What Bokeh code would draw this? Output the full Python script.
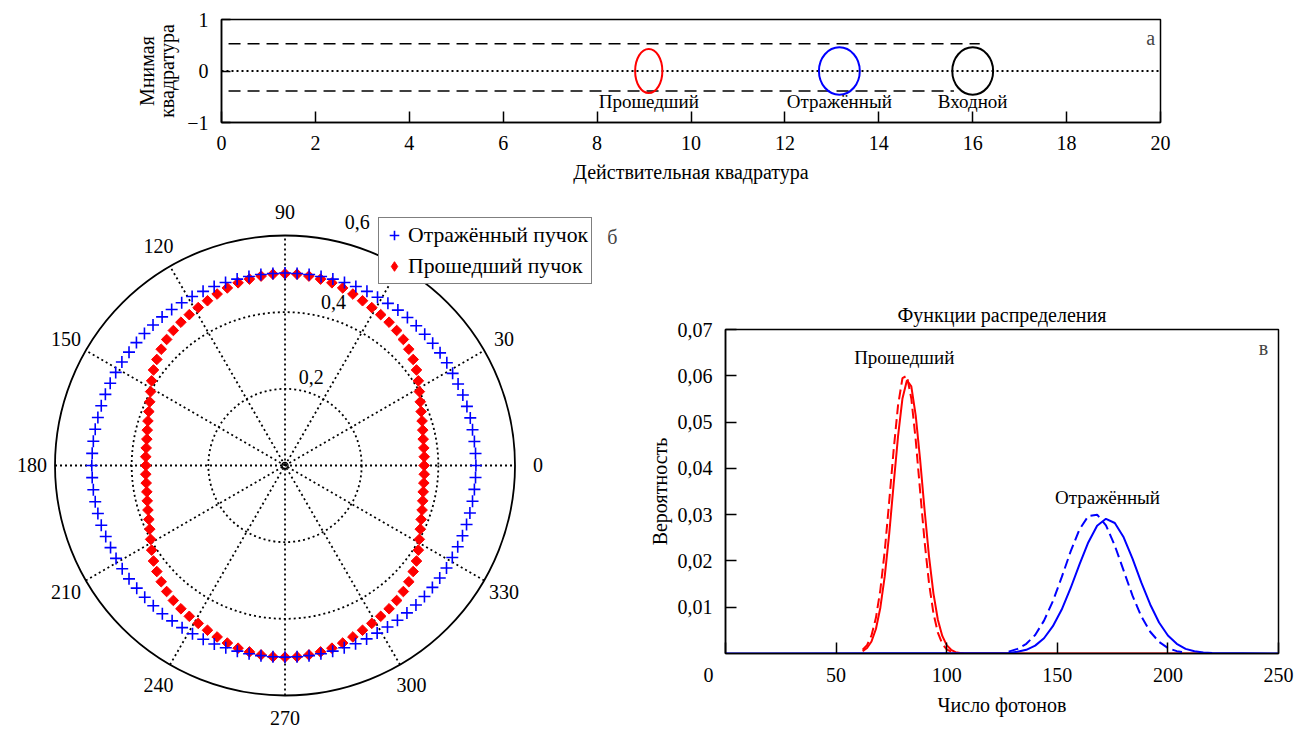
import math
from bokeh.plotting import figure
from bokeh.models import Range1d, Label, Legend, LegendItem, FixedTicker
from bokeh.layouts import column, row
from bokeh.embed import file_html
from bokeh.resources import INLINE
from bokeh.core.properties import value

FONT = "Liberation Serif"

# ---------------- panel а : phase plane ----------------
a_xticks = [0, 2, 4, 6, 8, 10, 12, 14, 16, 18, 20]
a_yticks = [-1, 0, 1]
a_ytick_labels = {-1: "\u22121", 0: "0", 1: "1"}
ell_names = ["Прошедший", "Отражённый", "Входной"]
ell_x = [9.1, 13.16, 16.0]
ell_y = [0.0, 0.0, 0.0]
ell_w = [0.58, 0.87, 0.87]
ell_h = [0.86, 0.92, 0.92]
ell_colors = ["red", "blue", "black"]
upper_dash_x = [0.15, 16.15]
upper_dash_y = [0.53, 0.53]
lower_dash_x = [0.15, 15.6]
lower_dash_y = [-0.39, -0.39]
zero_x = [0, 20]
zero_y = [0, 0]

# ---------------- panel б : polar ----------------
theta_deg = [0.0, 3.6, 7.2, 10.8, 14.4, 18.0, 21.6, 25.2, 28.8, 32.4, 36.0, 39.6, 43.2,
             46.8, 50.4, 54.0, 57.6, 61.2, 64.8, 68.4, 72.0, 75.6, 79.2, 82.8, 86.4, 90.0,
             93.6, 97.2, 100.8, 104.4, 108.0, 111.6, 115.2, 118.8, 122.4, 126.0, 129.6,
             133.2, 136.8, 140.4, 144.0, 147.6, 151.2, 154.8, 158.4, 162.0, 165.6, 169.2,
             172.8, 176.4, 180.0, 183.6, 187.2, 190.8, 194.4, 198.0, 201.6, 205.2, 208.8,
             212.4, 216.0, 219.6, 223.2, 226.8, 230.4, 234.0, 237.6, 241.2, 244.8, 248.4,
             252.0, 255.6, 259.2, 262.8, 266.4, 270.0, 273.6, 277.2, 280.8, 284.4, 288.0,
             291.6, 295.2, 298.8, 302.4, 306.0, 309.6, 313.2, 316.8, 320.4, 324.0, 327.6,
             331.2, 334.8, 338.4, 342.0, 345.6, 349.2, 352.8, 356.4]
r_reflected = [0.498, 0.498, 0.498, 0.498, 0.499, 0.499, 0.499, 0.499, 0.499, 0.500, 0.500,
               0.500, 0.500, 0.500, 0.501, 0.501, 0.501, 0.501, 0.502, 0.502, 0.502, 0.502,
               0.502, 0.502, 0.502, 0.502,
               0.502, 0.502, 0.502, 0.502, 0.502, 0.502, 0.502, 0.503, 0.503, 0.503, 0.503,
               0.503, 0.503, 0.503, 0.503, 0.504, 0.504, 0.504, 0.504, 0.504, 0.504, 0.504,
               0.504, 0.504, 0.504,
               0.504, 0.504, 0.504, 0.504, 0.504, 0.503, 0.503, 0.503, 0.503, 0.503, 0.502,
               0.502, 0.502, 0.502, 0.501, 0.501, 0.501, 0.501, 0.501, 0.500, 0.500, 0.500,
               0.500, 0.500, 0.500,
               0.500, 0.500, 0.500, 0.500, 0.500, 0.500, 0.500, 0.499, 0.499, 0.499, 0.499,
               0.499, 0.499, 0.499, 0.499, 0.499, 0.498, 0.498, 0.498, 0.498, 0.498, 0.498,
               0.498, 0.498]
r_transmitted = [0.363, 0.364, 0.365, 0.367, 0.371, 0.376, 0.382, 0.390, 0.400, 0.412, 0.424,
                 0.434, 0.443, 0.451, 0.457, 0.462, 0.466, 0.470, 0.475, 0.481, 0.487, 0.492,
                 0.495, 0.498, 0.500, 0.500,
                 0.500, 0.498, 0.495, 0.492, 0.487, 0.481, 0.475, 0.470, 0.466, 0.462, 0.457,
                 0.451, 0.443, 0.434, 0.424, 0.412, 0.400, 0.390, 0.382, 0.376, 0.371, 0.367,
                 0.365, 0.364, 0.363,
                 0.364, 0.365, 0.367, 0.371, 0.376, 0.382, 0.390, 0.400, 0.412, 0.424, 0.434,
                 0.443, 0.451, 0.457, 0.462, 0.466, 0.470, 0.475, 0.481, 0.487, 0.492, 0.495,
                 0.498, 0.500, 0.500,
                 0.500, 0.498, 0.495, 0.492, 0.487, 0.481, 0.475, 0.470, 0.466, 0.462, 0.457,
                 0.451, 0.443, 0.434, 0.424, 0.412, 0.400, 0.390, 0.382, 0.376, 0.371, 0.367,
                 0.365, 0.364]
polar_rings = [0.2, 0.4]
polar_rmax = 0.6
polar_ring_labels = ["0,2", "0,4", "0,6"]
polar_ring_label_r = [0.242, 0.445, 0.663]
polar_spokes = [0, 30, 60, 90, 120, 150]
polar_angle_ticks = [0, 30, 60, 90, 120, 150, 180, 210, 240, 270, 300, 330]
polar_angle_labels = ["0", "30", "60", "90", "120", "150", "180", "210", "240", "270", "300", "330"]

# ---------------- panel в : distributions ----------------
c_xticks = [0, 50, 100, 150, 200, 250]
c_yticks = [0.01, 0.02, 0.03, 0.04, 0.05, 0.06, 0.07]
c_ytick_labels = ["0,01", "0,02", "0,03", "0,04", "0,05", "0,06", "0,07"]

red_solid_x = [62, 64, 66, 68, 70, 72, 74, 76, 78, 80, 82, 84, 86, 88, 90, 92, 94, 96, 98,
               100, 102, 104, 106, 108, 215]
red_solid_y = [0.0005, 0.0012, 0.0026, 0.0053, 0.0099, 0.0167, 0.0258, 0.0365, 0.0469,
               0.0551, 0.0590, 0.0577, 0.0514, 0.0418, 0.0310, 0.0210, 0.0130, 0.0073,
               0.0038, 0.0018, 0.0008, 0.0003, 0.0001, 0.0, 0.0]
red_dash_x = [62, 64, 66, 68, 70, 72, 74, 76, 78, 80, 82, 84, 86, 88, 90, 92, 94, 96, 98,
              100, 102]
red_dash_y = [0.0008, 0.0018, 0.0039, 0.0077, 0.0137, 0.0222, 0.0328, 0.0439, 0.0536,
              0.0595, 0.0600, 0.0551, 0.0461, 0.0350, 0.0242, 0.0152, 0.0087, 0.0045,
              0.0021, 0.0009, 0.0004]
blue_solid_x = [0, 128, 132, 136, 140, 144, 148, 152, 156, 160, 164, 168, 172, 176, 180,
                184, 188, 192, 196, 200, 204, 208, 212, 216, 220, 250]
blue_solid_y = [0.0, 0.0001, 0.0004, 0.0008, 0.0017, 0.0033, 0.0059, 0.0095, 0.0141,
                0.0192, 0.0240, 0.0276, 0.0291, 0.0282, 0.0251, 0.0205, 0.0153, 0.0106,
                0.0067, 0.0039, 0.0021, 0.0010, 0.0005, 0.0002, 0.0001, 0.0]
blue_dash_x = [128, 132, 136, 140, 144, 148, 152, 156, 160, 164, 168, 172, 176, 180, 184,
               188, 192, 196, 200, 204, 208]
blue_dash_y = [0.0004, 0.0010, 0.0021, 0.0040, 0.0071, 0.0113, 0.0165, 0.0220, 0.0268,
               0.0297, 0.0300, 0.0277, 0.0233, 0.0179, 0.0125, 0.0080, 0.0047, 0.0025,
               0.0012, 0.0005, 0.0002]


def style_axes(p, size="20px"):
    for ax in (p.xaxis[0], p.yaxis[0]):
        ax.major_label_text_font = FONT
        ax.major_label_text_font_size = size
        ax.major_label_text_color = "black"
        ax.axis_label_text_font = FONT
        ax.axis_label_text_font_size = size
        ax.axis_label_text_font_style = "normal"
        ax.axis_label_text_color = "black"
        ax.axis_line_color = "black"
        ax.axis_line_width = 1.5
        ax.major_tick_line_color = "black"
        ax.major_tick_line_width = 1.5
        ax.major_tick_out = 0
        ax.minor_tick_line_color = None
    p.grid.visible = False
    p.outline_line_color = "black"
    p.outline_line_width = 1.5
    p.background_fill_color = "white"
    p.border_fill_color = "white"


# ======== panel а ========
pa = figure(width=1302, height=196, x_range=Range1d(0, 20), y_range=Range1d(-1, 1),
            output_backend="svg", toolbar_location=None,
            min_border_left=221, min_border_right=142, min_border_top=19, min_border_bottom=74)
style_axes(pa)
pa.xaxis.ticker = FixedTicker(ticks=a_xticks)
pa.yaxis.ticker = FixedTicker(ticks=a_yticks)
pa.yaxis.major_label_overrides = a_ytick_labels
pa.xaxis.major_tick_in = 11
pa.yaxis.major_tick_in = 9
pa.xaxis.major_label_standoff = 13
pa.yaxis.major_label_standoff = 13
pa.xaxis.axis_label = "Действительная квадратура"
pa.yaxis.axis_label = "Мнимая\nквадратура"
pa.yaxis.axis_label_text_line_height = 0.9
pa.xaxis.axis_label_standoff = 8
pa.yaxis.axis_label_standoff = 6

pa.line(zero_x, zero_y, line_color="black", line_width=1.8, line_dash="2 3")
pa.line(upper_dash_x, upper_dash_y, line_color="black", line_width=1.5, line_dash="12 7")
pa.line(lower_dash_x, lower_dash_y, line_color="black", line_width=1.5, line_dash="12 7")
pa.ellipse(x=ell_x, y=ell_y, width=ell_w, height=ell_h, fill_color=None,
           line_color=ell_colors, line_width=2)
pa.text(x=ell_x, y=[-0.59] * 3, text=ell_names, text_font=value(FONT), text_font_size="19px",
        text_align="center", text_baseline="middle", text_color="black")
pa.add_layout(Label(x=19.79, y=0.64, text="а", text_font=FONT, text_font_size="20px",
                    text_align="center", text_baseline="middle"))

# ======== panel б ========
pb = figure(width=640, height=533, x_range=Range1d(-0.7422, 0.9274),
            y_range=Range1d(-0.6887, 0.7017), output_backend="svg", toolbar_location=None,
            x_axis_type=None, y_axis_type=None, min_border=0)
pb.grid.visible = False
pb.outline_line_color = None

pb.circle(x=[0] * len(polar_rings), y=[0] * len(polar_rings), radius=polar_rings,
          fill_color=None, line_color="black", line_width=1.8, line_dash="2 3")
sx0, sy0, sx1, sy1 = [], [], [], []
for a in polar_spokes:
    t = math.radians(a)
    sx0.append(-polar_rmax * math.cos(t)); sy0.append(-polar_rmax * math.sin(t))
    sx1.append(polar_rmax * math.cos(t)); sy1.append(polar_rmax * math.sin(t))
pb.segment(sx0, sy0, sx1, sy1, line_color="black", line_width=1.8, line_dash="2 3")
pb.circle(x=[0], y=[0], radius=[polar_rmax], fill_color=None, line_color="black", line_width=1.8)
pb.scatter(x=[0], y=[0], marker="circle", size=6, fill_color=None, line_color="black", line_width=1.3)

th = [math.radians(t) for t in theta_deg]
rx = [r * math.cos(t) for r, t in zip(r_transmitted, th)]
ry = [r * math.sin(t) for r, t in zip(r_transmitted, th)]
bx = [r * math.cos(t) for r, t in zip(r_reflected, th)]
by = [r * math.sin(t) for r, t in zip(r_reflected, th)]
red_r = pb.scatter(rx, ry, marker="square", angle=math.pi / 4, size=7.5,
                   fill_color="red", line_color="red")
blue_r = pb.scatter(bx, by, marker="cross", size=12, line_color="blue", line_width=1.6)
# legend swatch for the diamond markers (legend glyphs ignore rotation); not drawn in the plot
nan = float("nan")
red_swatch = pb.scatter(x=[nan], y=[nan], marker="diamond", size=13,
                        fill_color="red", line_color="red")

lab_r = 0.66
pb.text(x=[lab_r * math.cos(math.radians(a)) for a in polar_angle_ticks],
        y=[lab_r * math.sin(math.radians(a)) for a in polar_angle_ticks],
        text=polar_angle_labels, text_font=value(FONT), text_font_size="20px",
        text_align="center", text_baseline="middle", text_color="black")
ring_ang = math.radians(73.5)
pb.text(x=[r * math.cos(ring_ang) for r in polar_ring_label_r],
        y=[r * math.sin(ring_ang) for r in polar_ring_label_r],
        text=polar_ring_labels, text_font=value(FONT), text_font_size="20px",
        text_align="center", text_baseline="middle", text_color="black")
pb.add_layout(Label(x=0.854, y=0.595, text="б", text_font=FONT, text_font_size="20px",
                    text_align="center", text_baseline="middle"))

legend = Legend(items=[LegendItem(label="Отражённый пучок", renderers=[blue_r]),
                       LegendItem(label="Прошедший пучок", renderers=[red_swatch])],
                location=(378, 445))
legend.label_text_font = FONT
legend.label_text_font_size = "21.7px"
legend.label_text_color = "black"
legend.border_line_color = "black"
legend.border_line_width = 1.2
legend.background_fill_alpha = 1.0
legend.padding = 3
legend.spacing = 3
legend.margin = 0
legend.glyph_width = 24
legend.glyph_height = 28
legend.label_height = 28
legend.label_standoff = 2
pb.add_layout(legend)

# ======== panel в ========
pc = figure(width=662, height=533, x_range=Range1d(0, 250), y_range=Range1d(0, 0.07),
            output_backend="svg", toolbar_location=None,
            min_border_left=85, min_border_right=24, min_border_top=133, min_border_bottom=76)
style_axes(pc)
pc.title.text = "Функции распределения"
pc.title.align = "center"
pc.title.text_font = FONT
pc.title.text_font_size = "20px"
pc.title.text_font_style = "normal"
pc.title.text_color = "black"
pc.title.standoff = 8
pc.xaxis.ticker = FixedTicker(ticks=c_xticks)
pc.xaxis.major_label_overrides = {0: "0\u2003\u2002\u2009"}
pc.yaxis.ticker = FixedTicker(ticks=c_yticks)
pc.yaxis.major_label_overrides = dict(zip(c_yticks, c_ytick_labels))
pc.xaxis.major_tick_in = 11
pc.yaxis.major_tick_in = 11
pc.xaxis.major_label_standoff = 10
pc.yaxis.major_label_standoff = 13
pc.xaxis.axis_label = "Число фотонов"
pc.yaxis.axis_label = "Вероятность"
pc.xaxis.axis_label_standoff = 5
pc.yaxis.axis_label_standoff = 4

pc.line(red_solid_x, red_solid_y, line_color="red", line_width=2)
pc.line(blue_solid_x, blue_solid_y, line_color="blue", line_width=2)
pc.line(red_dash_x, red_dash_y, line_color="red", line_width=2, line_dash="10 5")
pc.line(blue_dash_x, blue_dash_y, line_color="blue", line_width=2, line_dash="10 5")

pc.text(x=[80.8, 172.7], y=[0.064, 0.0337], text=["Прошедший", "Отражённый"],
        text_font=value(FONT), text_font_size="19px", text_align="center",
        text_baseline="middle", text_color="black")
pc.add_layout(Label(x=243.2, y=0.066, text="в", text_font=FONT, text_font_size="20px",
                    text_align="center", text_baseline="middle"))

layout = column(pa, row(column(pb), column(pc)))
open("out.html", "w").write(file_html(layout, INLINE))
